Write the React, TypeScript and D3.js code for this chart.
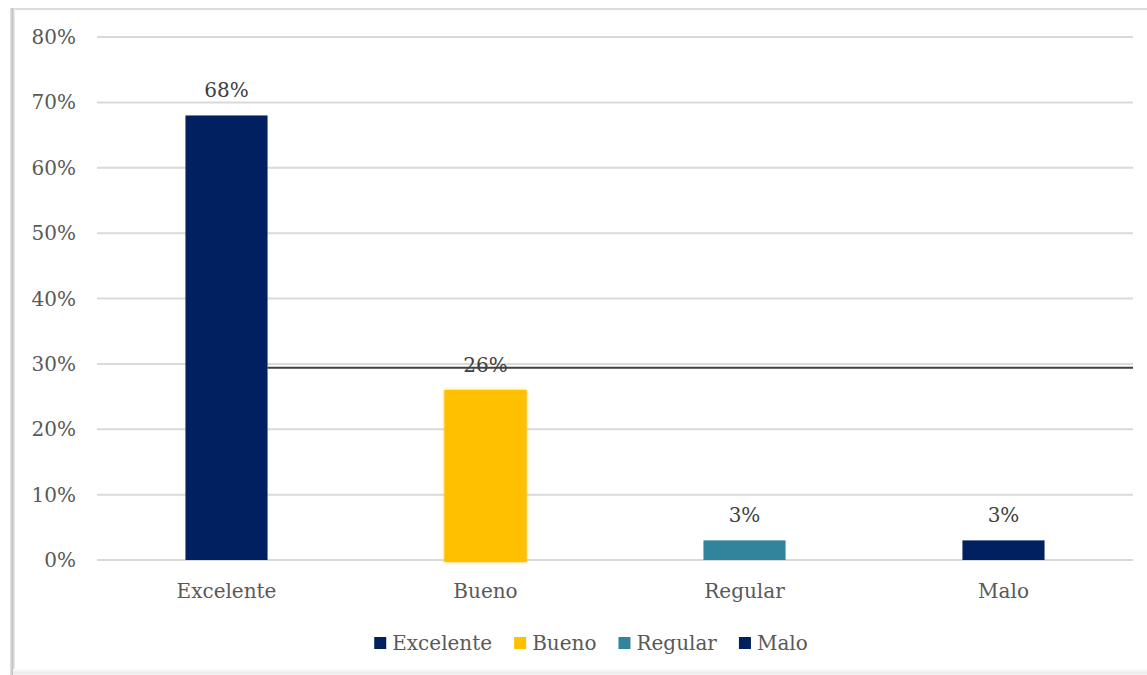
import React from "react";
import * as d3 from "d3";

const categories = ["Excelente", "Bueno", "Regular", "Malo"];
const values = [0.68, 0.26, 0.03, 0.03];
const colors = ["#002060", "#FFC000", "#31849B", "#002060"];
const yTicks = [0, 0.1, 0.2, 0.3, 0.4, 0.5, 0.6, 0.7, 0.8];
const referenceValue = 0.294;

const W = 1147;
const H = 675;
const FONT = "'DejaVu Serif', serif";
const FS = 20;

function measure(text: string): number {
  const c = document.createElement("canvas").getContext("2d");
  if (!c) return text.length * 10;
  c.font = `${FS}px ${FONT}`;
  return c.measureText(text).width;
}

export default function App() {
  const x = d3
    .scaleBand<string>()
    .domain(categories)
    .range([97, 1133])
    .paddingInner(0.683)
    .paddingOuter(0.3415);
  const y = d3.scaleLinear().domain([0, 0.8]).range([560, 37]);
  const fmt = d3.format(".0%");

  const sq = 12;
  const gapText = 6;
  const gapItem = 22;
  const widths = categories.map((c) => measure(c));
  const total = widths.reduce((a, w) => a + sq + gapText + w, 0) + gapItem * (categories.length - 1);
  let lx = 591 - total / 2;
  const legendItems = categories.map((c, i) => {
    const item = { c, x: lx, color: colors[i] };
    lx += sq + gapText + widths[i] + gapItem;
    return item;
  });

  const refX0 = (x(categories[0]) as number) + x.bandwidth();

  return (
    <svg
      width={W}
      height={H}
      style={{ position: "absolute", left: 0, top: 0, display: "block" }}
      fontFamily={FONT}
    >
      <defs>
        <filter id="glow" x="-20%" y="-20%" width="140%" height="140%">
          <feGaussianBlur in="SourceGraphic" stdDeviation="1.5" result="b" />
          <feMerge>
            <feMergeNode in="b" />
            <feMergeNode in="SourceGraphic" />
          </feMerge>
        </filter>
        <linearGradient id="leftShadow" x1="0" x2="1" y1="0" y2="0">
          <stop offset="0" stopColor="#e6e6e6" />
          <stop offset="0.5" stopColor="#c4c4c4" />
          <stop offset="1" stopColor="#f2f2f2" />
        </linearGradient>
        <linearGradient id="bottomShadow" x1="0" x2="0" y1="0" y2="1">
          <stop offset="0" stopColor="#ffffff" />
          <stop offset="0.6" stopColor="#ebebeb" />
          <stop offset="1" stopColor="#f5f5f5" />
        </linearGradient>
      </defs>
      <rect x={0} y={0} width={W} height={H} fill="#ffffff" />
      <rect x={11} y={8} width={W - 11} height={2} fill="#dcdcdc" />
      <rect x={10} y={8} width={5} height={H - 8} fill="url(#leftShadow)" />
      <rect x={13} y={669} width={W - 13} height={6} fill="url(#bottomShadow)" />

      {yTicks.map((t) => (
        <line
          key={t}
          x1={97}
          x2={1133}
          y1={y(t)}
          y2={y(t)}
          stroke="#d9d9d9"
          strokeWidth={2}
        />
      ))}
      {yTicks.map((t) => (
        <text
          key={"l" + t}
          x={76}
          y={y(t)}
          textAnchor="end"
          dominantBaseline="central"
          fontSize={FS}
          fill="#595959"
        >
          {fmt(t)}
        </text>
      ))}

      <line
        x1={refX0}
        x2={1133}
        y1={y(referenceValue)}
        y2={y(referenceValue)}
        stroke="#404040"
        strokeWidth={2}
      />

      {categories.map((c, i) => (
        <rect
          key={c}
          x={x(c)}
          y={y(values[i])}
          width={x.bandwidth()}
          height={y(0) - y(values[i]) + (i === 1 ? 2 : 0)}
          fill={colors[i]}
          filter={i === 1 ? "url(#glow)" : undefined}
        />
      ))}

      {categories.map((c, i) => (
        <text
          key={"d" + c}
          x={(x(c) as number) + x.bandwidth() / 2}
          y={y(values[i]) - 25}
          textAnchor="middle"
          dominantBaseline="central"
          fontSize={FS}
          fill="#404040"
        >
          {fmt(values[i])}
        </text>
      ))}

      {categories.map((c) => (
        <text
          key={"c" + c}
          x={(x(c) as number) + x.bandwidth() / 2}
          y={591}
          textAnchor="middle"
          dominantBaseline="central"
          fontSize={FS}
          fill="#595959"
        >
          {c}
        </text>
      ))}

      {legendItems.map((it) => (
        <g key={"lg" + it.c}>
          <rect x={it.x} y={637} width={sq} height={sq} fill={it.color} />
          <text
            x={it.x + sq + gapText}
            y={643}
            dominantBaseline="central"
            fontSize={FS}
            fill="#595959"
          >
            {it.c}
          </text>
        </g>
      ))}
    </svg>
  );
}
